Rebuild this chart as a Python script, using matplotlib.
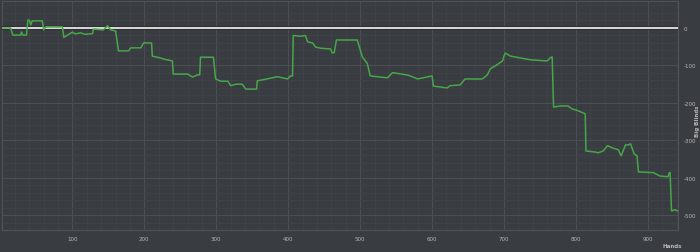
import matplotlib
matplotlib.use('Agg')
from matplotlib import pyplot as plt
from matplotlib import patheffects
from matplotlib.ticker import MultipleLocator

# Hand number and running winnings (big blinds)
hands = [3, 14, 17, 28, 29, 31, 36, 38, 40, 42, 44, 58, 60, 63, 86, 88, 100, 104,
         111, 118, 128, 129, 143, 149, 153, 160, 164, 178, 181, 195, 199, 210, 211,
         222, 229, 239, 240, 260, 267, 274, 277, 278, 296, 299, 306, 316, 320, 327,
         336, 341, 356, 357, 368, 385, 399, 403, 406, 407, 417, 424, 427, 434, 438,
         445, 459, 461, 464, 467, 496, 503, 510, 514, 538, 545, 567, 580, 600, 602,
         621, 625, 639, 646, 670, 677, 681, 688, 698, 700, 702, 709, 737, 760, 764,
         767, 769, 778, 789, 795, 802, 813, 814, 827, 831, 838, 844, 851, 859, 863,
         869, 873, 876, 881, 885, 887, 908, 917, 928, 930, 931, 933, 938, 941]
bb = [0, 0, -19, -19, -11, -19, -19, 21, 21, 8, 19, 19, -5, 3, 3, -25, -11, -16,
      -13, -17, -15, -3, -5, 6, -5, -8, -61, -61, -53, -53, -40, -40, -75,
      -80, -84, -88, -123, -123, -131, -125, -125, -78, -78, -136, -142, -142, -154, -150,
      -150, -163, -163, -141, -137, -130, -136, -128, -128, -20, -22, -20, -37, -40, -51,
      -54, -56, -66, -66, -32, -32, -77, -95, -128, -133, -119, -126, -136, -128, -155,
      -160, -154, -152, -136, -136, -125, -109, -101, -88, -75, -67, -75, -85, -88, -80,
      -77, -211, -208, -208, -216, -220, -229, -328, -331, -333, -328, -314, -320, -325, -341,
      -312, -312, -309, -336, -341, -384, -386, -395, -397, -386, -386, -488, -485, -488]

bg = '#393c40'
txt = '#b8b8b8'

fig = plt.figure(figsize=(7, 2.53), dpi=100, facecolor=bg)
ax = fig.add_axes([2 / 700, 1 - 231 / 253, 676 / 700, 229 / 253], facecolor=bg)

ax.xaxis.set_major_locator(MultipleLocator(100))
ax.xaxis.set_minor_locator(MultipleLocator(20))
ax.yaxis.set_major_locator(MultipleLocator(100))
ax.yaxis.set_minor_locator(MultipleLocator(20))
ax.grid(True, which='major', color='#4b4f54', lw=0.8)
ax.grid(True, which='minor', color='#404348', lw=0.6)
ax.set_axisbelow(True)

# zero line: light grey with a dark edge
ax.axhline(0, color='#d4d4d4', lw=1.6, zorder=3,
           path_effects=[patheffects.withStroke(linewidth=3, foreground='#1e1f22')])
ax.plot(hands, bb, color='#47a64a', lw=1.1, zorder=4)

ax.set_xlim(2, 942)
ax.set_ylim(-539, 72)

for s in ax.spines.values():
    s.set_color('#50545a')
    s.set_linewidth(0.8)

ax.yaxis.tick_right()
ax.tick_params(which='both', length=0, labelsize=4, colors=txt)
ax.tick_params(axis='x', pad=4)
ax.tick_params(axis='y', pad=4)
ax.set_xticks([100, 200, 300, 400, 500, 600, 700, 800, 900])
ax.set_xticklabels(['100', '200', '300', '400', '500', '600', '700', '800', '900'])
ax.set_yticks([0, -100, -200, -300, -400, -500])
ax.set_yticklabels(['0', '-100', '-200', '-300', '-400', '-500'])

fig.text(672 / 700, 1 - 247 / 253, 'Hands', color=txt, fontsize=4,
         fontweight='bold', ha='center', va='center')
fig.text(697 / 700, 1 - 121 / 253, 'Big Blinds', color=txt, fontsize=4,
         fontweight='bold', ha='center', va='center', rotation=90)

plt.savefig('out.png', dpi=100, facecolor=bg)
plt.close()
